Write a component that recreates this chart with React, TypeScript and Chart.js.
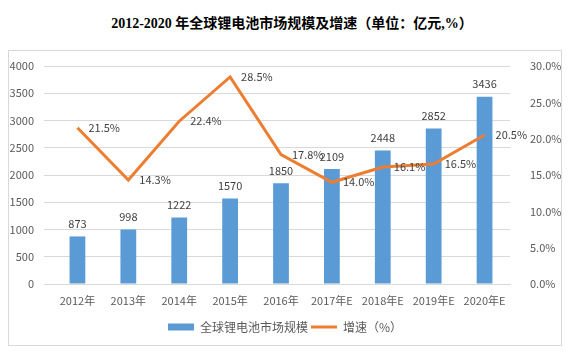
import React, { useEffect, useRef } from "react";
import { Chart, registerables } from "chart.js";

Chart.register(...registerables);

const categories = ["2012年", "2013年", "2014年", "2015年", "2016年", "2017年E", "2018年E", "2019年E", "2020年E"];
const marketSize = [873, 998, 1222, 1570, 1850, 2109, 2448, 2852, 3436];
const growthRate = [21.5, 14.3, 22.4, 28.5, 17.8, 14.0, 16.1, 16.5, 20.5];
const leftTicks = [0, 500, 1000, 1500, 2000, 2500, 3000, 3500, 4000];

const FONT = "'Microsoft YaHei', 'Noto Sans CJK SC', sans-serif";

const labelPlugin = {
  id: "valueLabels",
  afterDatasetsDraw(chart: any) {
    const ctx = chart.ctx;
    ctx.save();
    ctx.font = `11px ${FONT}`;
    ctx.fillStyle = "#404040";
    chart.data.datasets.forEach((ds: any, di: number) => {
      const meta = chart.getDatasetMeta(di);
      meta.data.forEach((el: any, i: number) => {
        const v = ds.data[i];
        if (ds.type === "bar") {
          ctx.textAlign = "center";
          ctx.textBaseline = "bottom";
          ctx.fillText(String(v), el.x, el.y - 7);
        } else {
          ctx.textAlign = "left";
          ctx.textBaseline = "middle";
          ctx.fillText(v.toFixed(1) + "%", el.x + 11, el.y);
        }
      });
    });
    ctx.restore();
  },
};

const noVPad = (s: any, w: number) => {
  s.width = w;
  s.paddingTop = 0;
  s.paddingBottom = 0;
};

export default function App() {
  const ref = useRef<HTMLCanvasElement>(null);
  useEffect(() => {
    if (!ref.current) return;
    const chart = new Chart(ref.current, {
      type: "bar",
      data: {
        labels: categories,
        datasets: [
          {
            type: "bar",
            label: "全球锂电池市场规模",
            data: marketSize,
            backgroundColor: "#5b9bd5",
            yAxisID: "y",
            order: 1,
            barPercentage: 0.31,
            categoryPercentage: 1,
            pointStyle: "rect",
          } as any,
          {
            type: "line",
            label: "增速（%）",
            data: growthRate,
            borderColor: "#ed7d31",
            backgroundColor: "#ed7d31",
            borderWidth: 3,
            pointRadius: 0,
            tension: 0,
            yAxisID: "y1",
            order: 0,
            pointStyle: "line",
          } as any,
        ],
      },
      options: {
        animation: false,
        responsive: false,
        layout: { padding: { top: 15, bottom: 2, left: 0, right: 0 } },
        plugins: {
          legend: {
            position: "bottom",
            reverse: true,
            labels: {
              usePointStyle: true,
              pointStyleWidth: 26,
              boxHeight: 7,
              padding: 3,
              color: "#595959",
              font: { family: FONT, size: 12 },
            },
          },
          tooltip: { enabled: false },
        },
        scales: {
          x: {
            grid: { display: false },
            border: { color: "#d9d9d9" },
            ticks: { color: "#595959", font: { family: FONT, size: 11 }, maxRotation: 0, padding: 2 },
            afterFit: (s: any) => { s.height = 34; },
          },
          y: {
            position: "left",
            min: 0,
            max: 4000,
            afterBuildTicks: (s: any) => { s.ticks = leftTicks.map((v) => ({ value: v })); },
            grid: { color: "#d9d9d9" },
            border: { display: false },
            ticks: {
              color: "#595959",
              font: { family: FONT, size: 11 },
              padding: 10,
              callback: (v: any) => String(v),
            },
            afterFit: (s: any) => noVPad(s, 43),
          },
          y1: {
            position: "right",
            min: 0,
            max: 30,
            grid: { display: false },
            border: { display: false },
            ticks: {
              stepSize: 5,
              color: "#595959",
              font: { family: FONT, size: 11 },
              padding: 12,
              callback: (v: any) => Number(v).toFixed(1) + "%",
            },
            afterFit: (s: any) => noVPad(s, 51),
          },
        },
      } as any,
      plugins: [labelPlugin],
    });
    return () => chart.destroy();
  }, []);

  return (
    <div style={{ width: 554 }}>
      <div
        style={{
          height: 42,
          lineHeight: "32px",
          textAlign: "center",
          fontWeight: "bold",
          fontSize: 14,
          color: "#000",
          fontFamily: "'Liberation Serif', 'Noto Sans CJK SC', serif",
          paddingLeft: 14,
          boxSizing: "border-box",
        }}
      >
        2012-2020 年全球锂电池市场规模及增速（单位：亿元,%）
      </div>
      <div style={{ width: 554, height: 296, border: "1px solid #d9d9d9", boxSizing: "border-box" }}>
        <canvas ref={ref} width={552} height={294} style={{ display: "block" }} />
      </div>
    </div>
  );
}
